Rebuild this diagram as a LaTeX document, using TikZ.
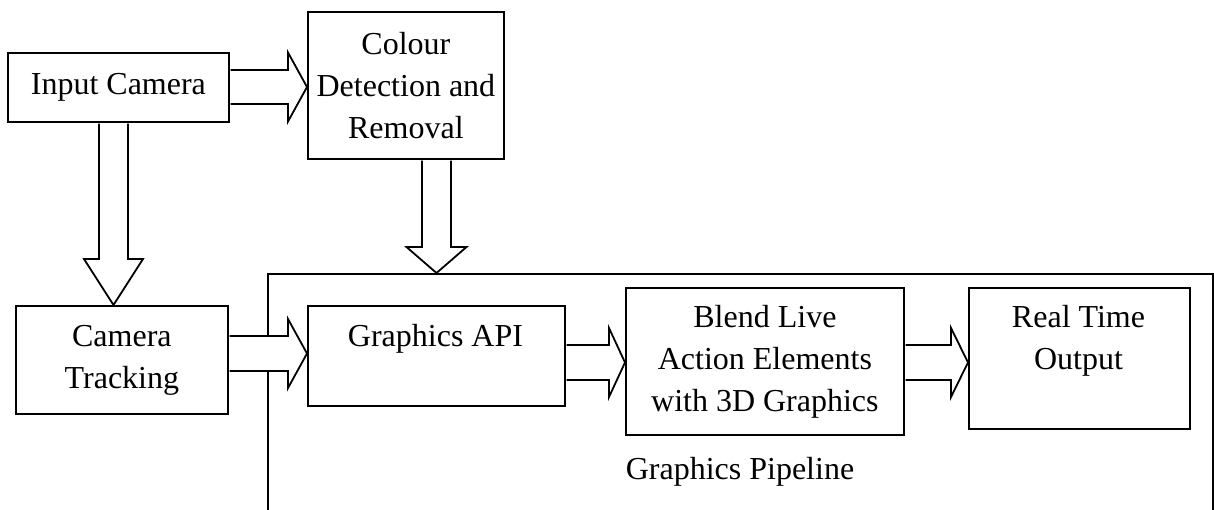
\documentclass[tikz,border=0pt]{standalone}
\usepackage{fontspec}
\setmainfont{Liberation Serif}
\usetikzlibrary{calc}
\tikzset{
  box/.style={draw, line width=1.8pt, inner sep=0pt, align=center,
    font=\fontsize{32}{42}\selectfont, anchor=north west},
  lbl/.style={inner sep=0pt, align=center, font=\fontsize{32}{42}\selectfont},
  barrow/.style={draw, fill=white, line width=1.8pt, line join=miter},
}
% rightward block arrow: start point, tip point, shaft half width, head half width, head length
\newcommand\harr[5]{\draw[barrow] let \p1=(#1), \p2=(#2) in
  (\x1+0.9pt,\y2+#3) -- (\x2-#5,\y2+#3) -- (\x2-#5,\y2+#4) -- (\x2,\y2)
  -- (\x2-#5,\y2-#4) -- (\x2-#5,\y2-#3) -- (\x1+0.9pt,\y2-#3);}
% downward block arrow
\newcommand\varr[5]{\draw[barrow] let \p1=(#1), \p2=(#2) in
  (\x2-#3,\y1-0.9pt) -- (\x2-#3,\y2+#5) -- (\x2-#4,\y2+#5) -- (\x2,\y2)
  -- (\x2+#4,\y2+#5) -- (\x2+#3,\y2+#5) -- (\x2+#3,\y1-0.9pt);}
\begin{document}
\begin{tikzpicture}[x=1pt,y=-1pt]
\useasboundingbox (0,0) rectangle (1214,509);
\clip (0,0) rectangle (1214,509);
% container
\node[box, minimum width=945pt, minimum height=300pt] (pl) at (267,273) {};
\node[lbl] (plt) at (740,472) {Graphics Pipeline};
% boxes
\node[box, minimum width=221pt, minimum height=69pt] (ic) at (7,52) {Input Camera};
\node[box, minimum width=196pt, minimum height=147pt] (cdr) at (307,11) {Colour\\Detection and\\Removal};
\node[box, minimum width=212pt, minimum height=108pt] (ct) at (15,305) {Camera\\Tracking};
\node[box, minimum width=257pt, minimum height=100pt] (api) at (307,305) {};
\node[lbl] (apit) at (435.5,339) {Graphics API};
\node[box, minimum width=278pt, minimum height=147pt] (bl) at (625,287) {Blend Live\\Action Elements\\with 3D Graphics};
\node[box, minimum width=221pt, minimum height=141pt] (rt) at (968,287) {};
\node[lbl] (rtt) at (1078.5,341) {Real Time\\Output};
% arrow centre lines
\coordinate (h1) at (0,87);
\coordinate (h2) at (0,353.5);
\coordinate (h3) at (0,362.5);
\coordinate (v1) at (113.5,0);
\coordinate (v2) at (436.5,0);
% block arrows
\harr{ic.east |- h1}{cdr.west |- h1}{17pt}{34.5pt}{19pt}
\harr{ct.east |- h2}{api.west |- h2}{17.5pt}{34.5pt}{19pt}
\harr{api.east |- h3}{bl.west |- h3}{17.5pt}{34.5pt}{16pt}
\harr{bl.east |- h3}{rt.west |- h3}{17.5pt}{34.5pt}{17pt}
\varr{ic.south -| v1}{ct.north -| v1}{14.5pt}{29.5pt}{46pt}
\varr{cdr.south -| v2}{pl.north -| v2}{14.5pt}{30pt}{26pt}
\end{tikzpicture}
\end{document}
